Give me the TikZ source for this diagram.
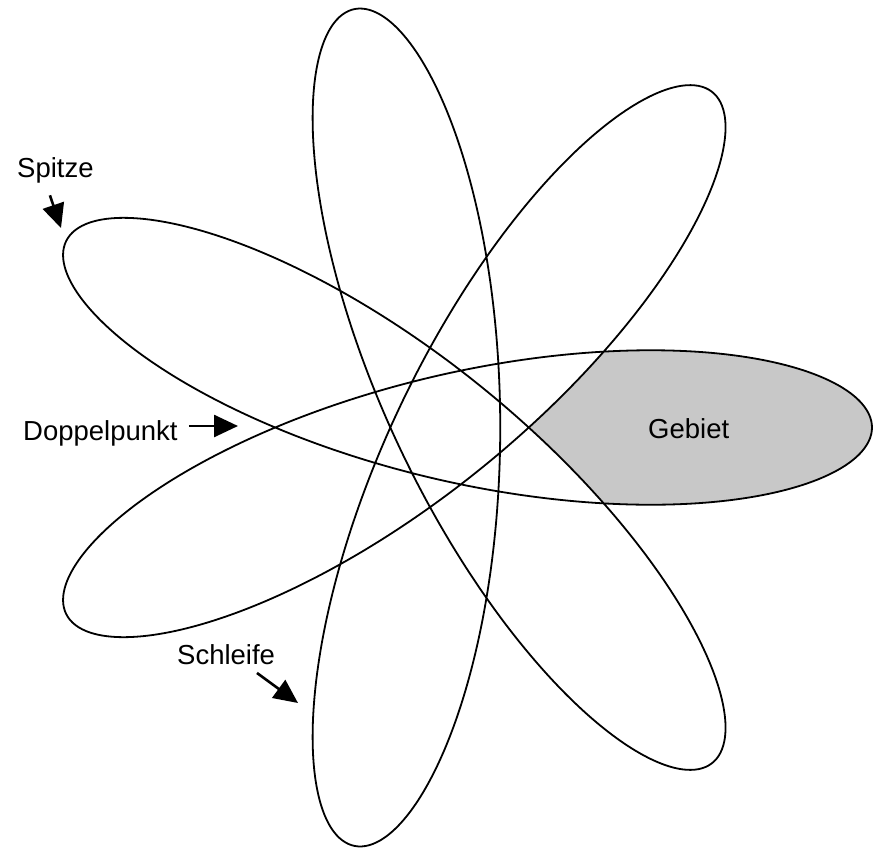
\documentclass[tikz,border=0pt]{standalone}
\usepackage{fontspec}
\setmainfont{Liberation Sans}
\usetikzlibrary{arrows.meta}
\definecolor{gebietgray}{HTML}{C8C8C8}

% closed curve z(t) = a e^{4it} + b e^{-3it}, seven loops
\tikzset{
  declare function={
    rosx(\t)=448+424*(0.5616*cos(4*\t)+0.4384*cos(3*\t));
    rosy(\t)=427.5-429*(0.5616*sin(4*\t)-0.4384*sin(3*\t));
  },
  rosette/.style={line width=1.8pt, line join=round},
  pointer/.style={line width=2.6pt, -{Triangle[length=24pt,width=22pt]}},
  lbl/.style={inner sep=2pt, font=\fontsize{27.5}{33}\selectfont},
}

\begin{document}
\begin{tikzpicture}[x=1pt, y=-1pt]
  \useasboundingbox (0,0) rectangle (881,849);
  % Gebiet: face inside the right loop
  \fill[gebietgray]
    plot[domain=-19.13:19.13, samples=60, smooth, variable=\t] ({rosx(\t)},{rosy(\t)})
    -- plot[domain=83.73:79.55, samples=12, smooth, variable=\t] ({rosx(\t)},{rosy(\t)})
    -- plot[domain=-79.55:-83.73, samples=12, smooth, variable=\t] ({rosx(\t)},{rosy(\t)})
    -- cycle;
  \draw[rosette] plot[domain=0:359.5, samples=720, smooth cycle, variable=\t] ({rosx(\t)},{rosy(\t)});

  \node[lbl, anchor=base west] (spitze) at (15,177) {Spitze};
  \node[lbl, anchor=base west] (doppel) at (21,440) {Doppelpunkt};
  \node[lbl, anchor=base west] (schleife) at (175,664) {Schleife};
  \node[lbl, anchor=base west] (gebiet) at (646,438) {Gebiet};

  \coordinate (spitzetip) at (61,228);
  \coordinate (doppeltip) at (238,426);
  \coordinate (schleifetip) at (298,703);

  \draw[pointer, shorten <=11pt] ([xshift=-9pt]spitze.south) -- (spitzetip);
  \draw[pointer, shorten <=9pt] (doppel.east |- doppeltip) -- (doppeltip);
  \draw[pointer, shorten <=11pt] ([xshift=22pt]schleife.south) -- (schleifetip);
\end{tikzpicture}
\end{document}
